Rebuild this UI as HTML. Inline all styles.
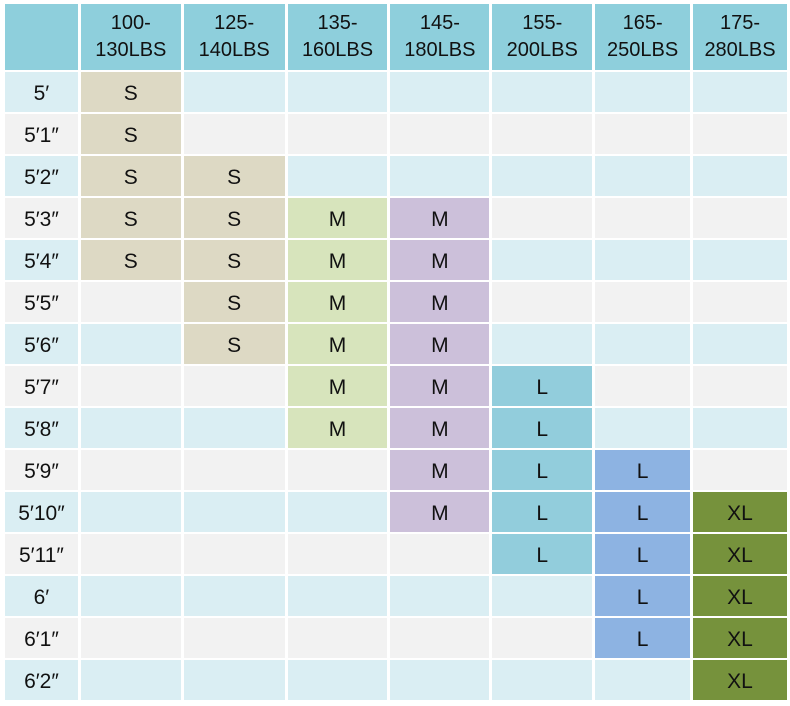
<!DOCTYPE html>
<html><head><meta charset="utf-8"><style>
body{margin:0;width:790px;height:706px;background:#fff;overflow:hidden}
table{position:absolute;left:2px;top:2px;border-collapse:separate;border-spacing:3px 2px;table-layout:fixed;font-family:"Liberation Sans","DejaVu Sans",sans-serif;font-size:21px;color:#111}
td{padding:3px 0 0 0;height:37px;text-align:center;vertical-align:middle}
tr.h td{height:66px;padding:0;background:#8ecfdc;line-height:27px;font-size:20px}
tr.b td{background:#daeef3}
tr.g td{background:#f2f2f2}
tr td.s{background:#ddd9c4}
tr td.m{background:#d7e4bc}
tr td.p{background:#ccc0da}
tr td.l{background:#92cddc}
tr td.k{background:#8db3e2}
tr td.x{background:#76923c}
</style></head><body>
<table>
<colgroup><col style="width:73px"><col style="width:100px"><col style="width:101px"><col style="width:100px"><col style="width:99px"><col style="width:100px"><col style="width:95px"><col style="width:94px"></colgroup>
<tr class="h"><td></td><td>100-<br>130LBS</td><td>125-<br>140LBS</td><td>135-<br>160LBS</td><td>145-<br>180LBS</td><td>155-<br>200LBS</td><td>165-<br>250LBS</td><td>175-<br>280LBS</td></tr>
<tr class="b"><td>5′</td><td class="s">S</td><td></td><td></td><td></td><td></td><td></td><td></td></tr>
<tr class="g"><td>5′1″</td><td class="s">S</td><td></td><td></td><td></td><td></td><td></td><td></td></tr>
<tr class="b"><td>5′2″</td><td class="s">S</td><td class="s">S</td><td></td><td></td><td></td><td></td><td></td></tr>
<tr class="g"><td>5′3″</td><td class="s">S</td><td class="s">S</td><td class="m">M</td><td class="p">M</td><td></td><td></td><td></td></tr>
<tr class="b"><td>5′4″</td><td class="s">S</td><td class="s">S</td><td class="m">M</td><td class="p">M</td><td></td><td></td><td></td></tr>
<tr class="g"><td>5′5″</td><td></td><td class="s">S</td><td class="m">M</td><td class="p">M</td><td></td><td></td><td></td></tr>
<tr class="b"><td>5′6″</td><td></td><td class="s">S</td><td class="m">M</td><td class="p">M</td><td></td><td></td><td></td></tr>
<tr class="g"><td>5′7″</td><td></td><td></td><td class="m">M</td><td class="p">M</td><td class="l">L</td><td></td><td></td></tr>
<tr class="b"><td>5′8″</td><td></td><td></td><td class="m">M</td><td class="p">M</td><td class="l">L</td><td></td><td></td></tr>
<tr class="g"><td>5′9″</td><td></td><td></td><td></td><td class="p">M</td><td class="l">L</td><td class="k">L</td><td></td></tr>
<tr class="b"><td>5′10″</td><td></td><td></td><td></td><td class="p">M</td><td class="l">L</td><td class="k">L</td><td class="x">XL</td></tr>
<tr class="g"><td>5′11″</td><td></td><td></td><td></td><td></td><td class="l">L</td><td class="k">L</td><td class="x">XL</td></tr>
<tr class="b"><td>6′</td><td></td><td></td><td></td><td></td><td></td><td class="k">L</td><td class="x">XL</td></tr>
<tr class="g"><td>6′1″</td><td></td><td></td><td></td><td></td><td></td><td class="k">L</td><td class="x">XL</td></tr>
<tr class="b"><td>6′2″</td><td></td><td></td><td></td><td></td><td></td><td></td><td class="x">XL</td></tr>
</table>
</body></html>
